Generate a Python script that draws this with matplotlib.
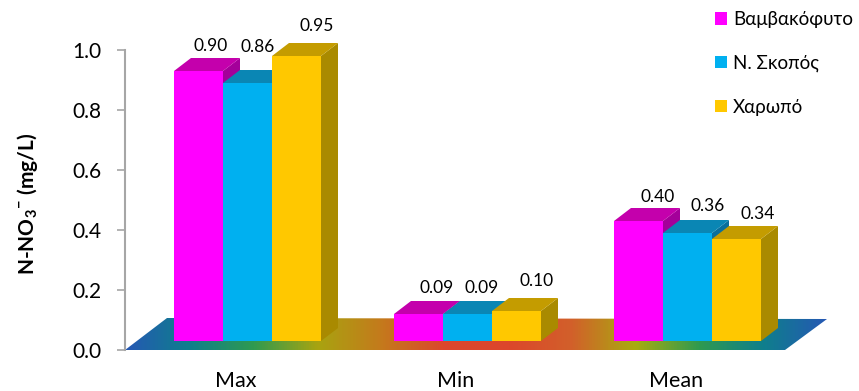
import numpy as np
import matplotlib
matplotlib.use('Agg')
import matplotlib.pyplot as plt
from matplotlib.colors import LinearSegmentedColormap
from matplotlib.patches import Patch, Polygon

plt.rcParams['font.family'] = ['Lato', 'Noto Sans', 'DejaVu Sans']
plt.rcParams['mathtext.fontset'] = 'custom'
plt.rcParams['mathtext.bf'] = 'Lato:bold'

# data
categories = ['Max', 'Min', 'Mean']
series_names = ['Βαμβακόφυτο', 'Ν. Σκοπός', 'Χαρωπό']
vamvakofyto = [0.90, 0.09, 0.40]
n_skopos = [0.86, 0.09, 0.36]
charopo = [0.95, 0.10, 0.34]
y_ticks = [0.0, 0.2, 0.4, 0.6, 0.8, 1.0]

# colours: front, top, side
fronts = ['#ff00ff', '#00b0f0', '#ffc800']
tops = ['#c400ac', '#0a86b4', '#c49c00']
sides = ['#a4009a', '#0a6f9c', '#a98a00']
floor_colors = ['#2558b4', '#0f7f8c', '#2f9a50', '#a8a410', '#c47a1c', '#dc462c',
                '#dc462c', '#d2602a', '#a8ac10', '#2f9a50', '#0f7f8c', '#2558b4']

# pixel layout
W, H = 859, 391
AX_L, AX_R, AX_T, AX_B = 125, 830, 50, 350
PX_X = 1 / 220  # one pixel in x data units
PX_Y = 1 / 300  # one pixel in y data units
BAR_W = 49 * PX_X
DEPTH_X = 17 * PX_X
DEPTH_Y = 13 * PX_Y
BASE = 9 * PX_Y
GROUP_SHIFT = 11.5 * PX_X

# label offsets from the front top centre of each bar [px]
label_dx = [[12, 10, 20], [18, 14, 20], [19, 20, 21]]
label_dy = [[25, 36, 30], [26, 26, 30], [24, 27, 25]]

fig = plt.figure(figsize=(W / 100, H / 100), dpi=100, facecolor='white')
ax = fig.add_axes([AX_L / W, 1 - AX_B / H, (AX_R - AX_L) / W, (AX_B - AX_T) / H])
xlim = ((AX_L - 236) * PX_X, (AX_R - 236) * PX_X)

# floor with the rainbow gradient
fl = [(xlim[0], 0), (xlim[0] + 660 * PX_X, 0),
      (xlim[0] + 702 * PX_X, 31 * PX_Y), (xlim[0] + 42 * PX_X, 32 * PX_Y)]
cmap = LinearSegmentedColormap.from_list('floor', floor_colors)
img = ax.imshow(np.linspace(0, 1, 512).reshape(1, -1), cmap=cmap, aspect='auto', zorder=1,
                extent=(xlim[0], xlim[0] + 702 * PX_X, 0, 32 * PX_Y))
clip = Polygon(fl, transform=ax.transData, fc='none', ec='none')
ax.add_patch(clip)
img.set_clip_path(clip)

x = np.arange(len(categories))
all_values = [vamvakofyto, n_skopos, charopo]
z = 2
for g in range(len(categories)):
    for s, values in enumerate(all_values):
        left = x[g] + GROUP_SHIFT + (s - 1.5) * BAR_W
        v = values[g]
        top = BASE + v
        right = left + BAR_W
        ax.add_patch(Polygon([(right, BASE), (right + DEPTH_X, BASE + DEPTH_Y),
                              (right + DEPTH_X, top + DEPTH_Y), (right, top)],
                             fc=sides[s], ec='none', zorder=z, clip_on=False))
        ax.add_patch(Polygon([(left, top), (left + DEPTH_X, top + DEPTH_Y),
                              (right + DEPTH_X, top + DEPTH_Y), (right, top)],
                             fc=tops[s], ec='none', zorder=z, clip_on=False))
        ax.bar(left, v, width=BAR_W, bottom=BASE, align='edge', color=fronts[s],
               zorder=z + 0.5, clip_on=False)
        z += 1

for g in range(len(categories)):
    for s, values in enumerate(all_values):
        cx = x[g] + GROUP_SHIFT + (s - 1) * BAR_W
        ax.annotate('%.2f' % values[g], (cx, BASE + values[g]),
                    xytext=(label_dx[g][s] * 0.72, label_dy[g][s] * 0.72),
                    textcoords='offset points', ha='center', va='center',
                    fontsize=12.5, color='black', zorder=50, annotation_clip=False)

ax.set_xlim(xlim)
ax.set_ylim(0, 1)
ax.set_yticks(y_ticks)
ax.set_yticklabels(['%.1f' % t for t in y_ticks], fontsize=15)
ax.set_xticks(x)
ax.set_xticklabels(categories, fontsize=15.5)
ax.tick_params(axis='x', length=0, pad=15)
ax.tick_params(axis='y', length=6, width=1.2, color='#a6a6a6', pad=11)
for name in ['top', 'right', 'bottom']:
    ax.spines[name].set_visible(False)
ax.spines['left'].set_color('#a6a6a6')
ax.spines['left'].set_linewidth(1.5)
ax.patch.set_alpha(0)

fig.text(28 / W, 1 - 204 / H, r'N-NO$_{\mathbf{3}}$$^{\mathbf{-}}$ (mg/L)', rotation=90,
         ha='center', va='center', fontsize=15, fontweight='bold')

handles = [Patch(fc=c, ec='none') for c in fronts]
fig.legend(handles, series_names, loc='upper left', bbox_to_anchor=(715 / W, 1 - 11 / H),
           frameon=False, fontsize=13.5, handlelength=0.64, handleheight=0.64,
           handletextpad=0.32, labelspacing=1.42, borderpad=0, borderaxespad=0)

fig.savefig('out.png', dpi=100)
